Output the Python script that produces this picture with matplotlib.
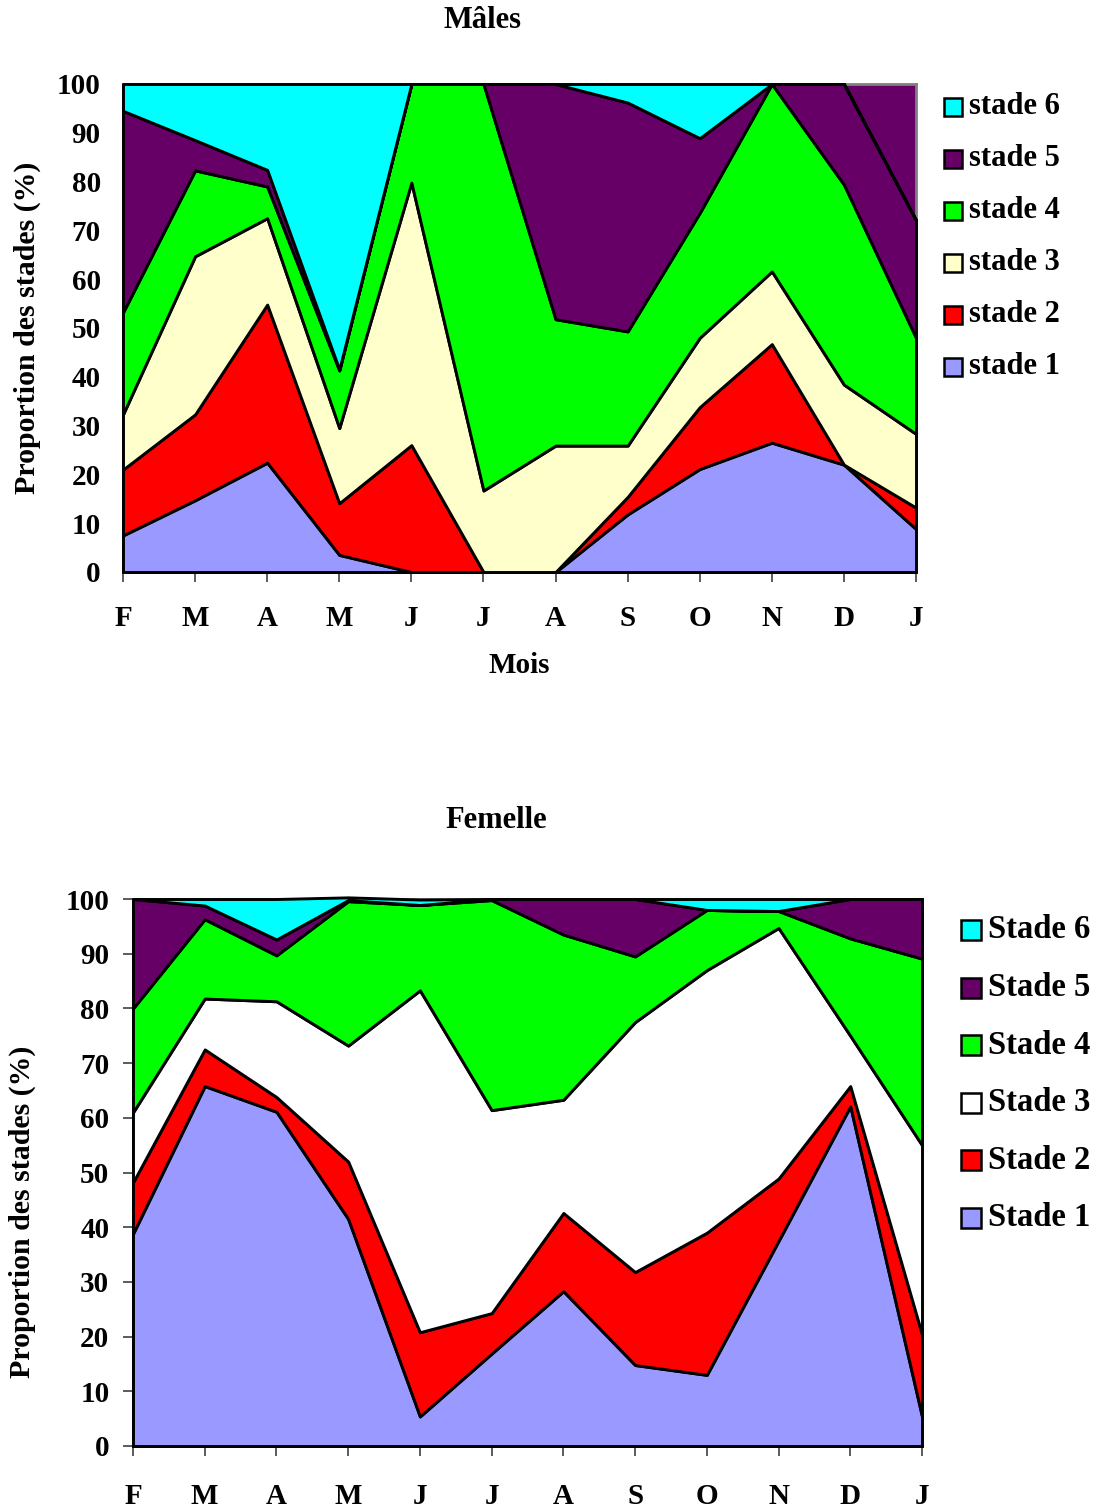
import numpy as np
import matplotlib
matplotlib.use("Agg")
import matplotlib.pyplot as plt
from matplotlib.patches import Rectangle

plt.rcParams['font.family'] = ['Liberation Serif', 'DejaVu Serif']
plt.rcParams['font.weight'] = 'bold'

months = ["F", "M", "A", "M", "J", "J", "A", "S", "O", "N", "D", "J"]
y_ticks = [0, 10, 20, 30, 40, 50, 60, 70, 80, 90, 100]

# Mâles (% per stage)
m_stade1 = [7.5, 14.7, 22.4, 3.5, 0, 0, 0, 11.8, 21.1, 26.5, 22.0, 8.8]
m_stade2 = [13.5, 17.6, 32.4, 10.6, 26.0, 0, 0, 3.6, 12.7, 20.2, 0, 4.4]
m_stade3 = [11.3, 32.4, 17.7, 15.4, 53.8, 16.7, 25.9, 10.5, 14.2, 14.9, 16.4, 15.1]
m_stade4 = [20.9, 17.6, 6.5, 11.8, 20.2, 83.3, 25.9, 23.4, 25.6, 38.4, 41.0, 19.7]
m_stade5 = [41.3, 6.2, 3.4, 0.2, 0, 0, 48.2, 46.9, 15.3, 0, 20.6, 24.1]
m_stade6 = [5.5, 11.5, 17.6, 58.5, 0, 0, 0, 3.8, 11.1, 0, 0, 0]

# Femelle (% per stage)
f_stade1 = [38.8, 65.8, 61.1, 41.5, 5.4, 16.9, 28.3, 14.8, 13.0, 37.5, 62.1, 5.4]
f_stade2 = [9.4, 6.7, 2.7, 10.5, 15.4, 7.4, 14.3, 17.0, 26.0, 11.4, 3.7, 15.0]
f_stade3 = [12.8, 9.3, 17.5, 21.2, 62.5, 37.1, 20.7, 45.7, 48.0, 45.8, 9.2, 34.6]
f_stade4 = [19.0, 14.5, 8.4, 26.4, 15.6, 38.4, 30.2, 12.0, 11.0, 3.1, 17.8, 34.1]
f_stade5 = [20.0, 2.5, 2.9, 0.2, 0, 0.2, 6.5, 10.5, 0, 0, 7.2, 10.9]
f_stade6 = [0, 1.2, 7.4, 0.5, 1.0, 0, 0, 0, 2.0, 2.2, 0, 0]

m_labels = ["stade 1", "stade 2", "stade 3", "stade 4", "stade 5", "stade 6"]
f_labels = ["Stade 1", "Stade 2", "Stade 3", "Stade 4", "Stade 5", "Stade 6"]

m_colors = ["#9999FF", "#FF0000", "#FFFFCC", "#00FF00", "#660066", "#00FFFF"]
f_colors = ["#9999FF", "#FF0000", "#FFFFFF", "#00FF00", "#660066", "#00FFFF"]

W, H = 1096, 1510
fig = plt.figure(figsize=(W / 100, H / 100), dpi=100)


def draw(ax_box, series, colors, remainder_color, ytick_len, xpad, ylab_x, ylab_y):
    l, t, r, b = ax_box
    ax = fig.add_axes([l / W, 1 - b / H, (r - l) / W, (b - t) / H])
    x = np.arange(len(months))
    base = np.zeros(len(months))
    for vals, c in zip(series, colors):
        top = base + np.array(vals)
        ax.fill_between(x, base, top, facecolor=c, edgecolor="black",
                        linewidth=2.1, zorder=3, clip_on=False)
        base = top
    if remainder_color is not None:
        ax.fill_between(x, base, 100, facecolor=remainder_color,
                        edgecolor="none", linewidth=0, zorder=1)
    ax.set_xlim(0, len(months) - 1)
    ax.set_ylim(0, 100)
    ax.set_xticks(x)
    ax.set_xticklabels(months, fontsize=21, fontweight="bold")
    ax.set_yticks(y_ticks)
    ax.set_yticklabels([str(v) for v in y_ticks], fontsize=21, fontweight="bold")
    ax.tick_params(axis="x", length=7, width=1.2, color="#404040", pad=xpad)
    ax.tick_params(axis="y", length=ytick_len, width=1.2, color="#404040",
                   pad=16 if ytick_len == 0 else 10)
    for s in ["left", "bottom"]:
        ax.spines[s].set_color("black")
        ax.spines[s].set_linewidth(2)
    for s in ["top", "right"]:
        ax.spines[s].set_color("#808080")
        ax.spines[s].set_linewidth(2)
    for sp in ax.spines.values():
        sp.set_zorder(2)
    ax.set_facecolor("white")
    fig.text(ylab_x / W, 1 - ylab_y / H, "Proportion des stades (%)",
             rotation=90, ha="center", va="center", fontsize=21.5, fontweight="bold")
    return ax


# Top chart: Mâles
ax1 = draw((123, 84, 916, 572),
           [m_stade1, m_stade2, m_stade3, m_stade4, m_stade5, m_stade6],
           m_colors, m_colors[4], 0, 17, 27, 328)
fig.text(483 / W, 1 - 20 / H, "Mâles", ha="center", va="center",
         fontsize=22, fontweight="bold")
fig.text(519 / W, 1 - 666 / H, "Mois", ha="center", va="center",
         fontsize=21, fontweight="bold")

# Bottom chart: Femelle
ax2 = draw((133, 899, 922, 1446),
           [f_stade1, f_stade2, f_stade3, f_stade4, f_stade5, f_stade6],
           f_colors, None, 7, 20, 22, 1212)
fig.text(496 / W, 1 - 820 / H, "Femelle", ha="center", va="center",
         fontsize=22, fontweight="bold")


def legend(labels, colors, sq_x, text_x, y_first, step, sq, fs):
    n = len(labels)
    for k in range(n):
        i = n - 1 - k
        yc = y_first + k * step
        fig.add_artist(Rectangle((sq_x / W, 1 - (yc + sq / 2) / H), sq / W, sq / H,
                                 facecolor=colors[i], edgecolor="black",
                                 linewidth=1.8, transform=fig.transFigure))
        fig.text(text_x / W, 1 - yc / H, labels[i], ha="left", va="center",
                 fontsize=fs, fontweight="bold")


legend(m_labels, m_colors, 944, 969, 107, 52, 18, 22)
legend(f_labels, f_colors, 961, 988, 930, 57.6, 20, 23.5)

fig.savefig("out.png", dpi=100)
